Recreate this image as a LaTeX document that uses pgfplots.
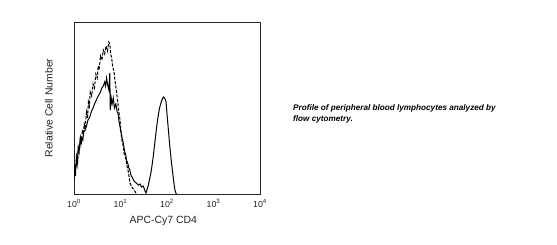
\documentclass[border=0pt]{standalone}
\usepackage{fontspec}
\setmainfont{Liberation Sans}
\usepackage{pgfplots}
\pgfplotsset{compat=1.18}
\begin{document}
\begin{tikzpicture}[x=1bp,y=1bp]
\path[fill=white] (0,0) rectangle (557,244);
\begin{axis}[
  at={(74bp,50bp)}, anchor=south west,
  width=186bp, height=172bp, scale only axis,
  xmode=log, xmin=1, xmax=10000, ymin=0, ymax=172,
  ytick=\empty,
  xtick={1,10,100,1000,10000},
  xticklabels={10\textsuperscript{0},10\textsuperscript{1},10\textsuperscript{2},10\textsuperscript{3},10\textsuperscript{4}},
  minor xtick={}, major tick length=0pt, minor tick length=0pt,
  xticklabel style={font=\fontsize{8.8}{10}\selectfont, color=black!85, yshift=-2bp},
  axis line style={black!85, line width=0.9pt},
  xlabel={APC-Cy7 CD4},
  xlabel style={font=\fontsize{10.5}{12}\selectfont, color=black!85, at={(axis description cs:0.48,0)}, anchor=center, yshift=-27bp},
  ylabel={Relative Cell Number},
  ylabel style={font=\fontsize{10.5}{12}\selectfont, color=black!85, at={(axis description cs:0,0.5)}, anchor=center, yshift=25bp},
  clip=true,
]
% isotype control (dashed)
\addplot[black, line width=1pt, dash pattern=on 3pt off 1.5pt] table[x expr={10^\thisrowno{0}}, y index=1] {
0.00 22
0.02 30
0.04 26
0.06 38
0.08 33
0.10 48
0.12 44
0.14 56
0.16 50
0.18 64
0.20 60
0.22 70
0.24 66
0.27 82
0.29 76
0.31 92
0.33 88
0.35 102
0.38 98
0.41 110
0.44 106
0.47 120
0.50 116
0.52 128
0.54 124
0.57 138
0.60 134
0.63 144
0.66 140
0.69 148
0.72 143
0.75 152
0.77 150
0.79 140
0.81 136
0.83 128
0.86 122
0.88 114
0.91 104
0.93 96
0.96 84
0.99 74
1.02 56
1.05 50
1.08 40
1.11 36
1.14 28
1.17 22
1.20 12
1.24 7
1.28 5
1.31 3
1.34 0
};
% CD4 stained (solid)
\addplot[black, line width=1pt] table[x expr={10^\thisrowno{0}}, y index=1] {
0.00 14
0.02 26
0.03 18
0.05 36
0.07 30
0.09 47
0.11 42
0.13 54
0.15 50
0.17 56
0.19 54
0.21 62
0.24 64
0.27 68
0.30 74
0.34 77
0.37 82
0.41 86
0.45 91
0.48 94
0.52 98
0.56 101
0.60 106
0.63 108
0.66 112
0.68 108
0.70 116
0.72 110
0.75 104
0.77 121
0.78 84
0.80 96
0.82 90
0.845 96
0.87 86
0.90 90
0.93 82
0.95 80
0.97 72
0.99 67
1.02 60
1.04 55
1.06 51
1.09 42
1.11 40
1.13 34
1.16 30
1.18 26
1.20 24
1.23 18
1.25 17
1.28 14
1.31 12
1.34 11
1.38 9
1.42 10
1.45 7
1.49 8
1.52 4
1.55 1
1.58 6
1.60 9
1.63 16
1.65 20
1.67 26
1.70 36
1.72 44
1.74 52
1.76 60
1.78 68
1.81 78
1.84 86
1.87 91
1.89 94
1.92 97
1.95 96
1.98 92
2.00 80
2.03 64
2.06 48
2.09 34
2.12 22
2.14 14
2.17 4
2.20 0
};
\end{axis}
\node[inner sep=0pt, anchor=base west, font=\fontsize{8.2}{10}\selectfont\bfseries\itshape] at (293,134) {Profile of peripheral blood lymphocytes analyzed by};
\node[inner sep=0pt, anchor=base west, font=\fontsize{8.2}{10}\selectfont\bfseries\itshape] at (293,122.3) {flow cytometry.};
\end{tikzpicture}
\end{document}
